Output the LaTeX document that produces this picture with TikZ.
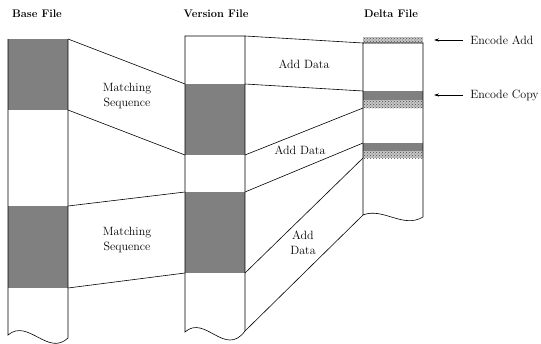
\documentclass[tikz,border=0pt]{standalone}
\usetikzlibrary{patterns,arrows.meta}
\begin{document}
\begin{tikzpicture}[x=1pt,y=-1pt,line width=0.6pt,
    txt/.style={font=\fontsize{12}{15}\selectfont,align=center,inner sep=1pt},
    head/.style={font=\fontsize{11}{13}\selectfont\bfseries},
    matchbox/.style={fill=gray},
    encbox/.style={preaction={fill=gray!45},pattern=crosshatch dots,pattern color=gray!60!black}]
    \useasboundingbox (0,0) rectangle (541,343);
    % headings
    \node[head] (base) at (37,14) {Base File};
    \node[head] (version) at (216,14) {Version File};
    \node[head] (delta) at (391,14) {Delta File};
    % base file
    \fill[matchbox] (8,39) rectangle (68,110);
    \fill[matchbox] (8,206) rectangle (68,288);
    \draw (8,39) -- (8,335) .. controls (28,318) and (48,357) .. (68,338) -- (68,39);
    % version file
    \fill[matchbox] (185,84) rectangle (245,155);
    \fill[matchbox] (185,192) rectangle (245,273);
    \draw (245,36) -- (185,36) -- (185,332) .. controls (205,314) and (225,358) .. (245,331) -- cycle;
    % delta file
    \fill[encbox] (363,37) rectangle (423,43);
    \fill[matchbox] (363,91) rectangle (423,100);
    \fill[encbox] (363,100) rectangle (423,108);
    \fill[matchbox] (363,143) rectangle (423,151);
    \fill[encbox] (363,151) rectangle (423,158);
    \draw (423,43) -- (363,43) -- (363,215) .. controls (383,207) and (403,229) .. (423,217) -- cycle;
    % corners
    \foreach \n/\y in {b1t/39,b1b/110,b2t/206,b2b/288}
        \coordinate (\n) at (68,\y);
    \foreach \n/\y in {vl1t/84,vl1b/155,vl2t/192,vl2b/273}
        \coordinate (\n) at (185,\y);
    \foreach \n/\y in {v0/36,vr1t/84,vr1b/155,vr2t/192,vr2b/273,vbot/331}
        \coordinate (\n) at (245,\y);
    \foreach \n/\y in {d0/43,d1t/91,d1b/108,d2t/143,d2b/158,dbot/215}
        \coordinate (\n) at (363,\y);
    % base to version
    \foreach \a/\b in {b1t/vl1t,b1b/vl1b,b2t/vl2t,b2b/vl2b}
        \draw (\a) -- (\b);
    % version to delta
    \foreach \a/\b in {v0/d0,vr1t/d1t,vr1b/d1b,vr2t/d2t,vr2b/d2b,vbot/dbot}
        \draw (\a) -- (\b);
    % labels
    \node[txt] (ms1) at (127,96) {Matching\\Sequence};
    \node[txt] (ms2) at (127,240) {Matching\\Sequence};
    \node[txt] (add1) at (304,64) {Add Data};
    \node[txt] (add2) at (300,150) {Add Data};
    \node[txt] (add3) at (303,243) {Add\\Data};
    % encodings
    \node[txt,anchor=west] (encadd) at (469,40) {Encode Add};
    \node[txt,anchor=west] (enccopy) at (469,95) {Encode Copy};
    \coordinate (ea) at (434,40);
    \coordinate (ec) at (434,95);
    \draw[-{Stealth[length=5pt,width=3pt]},shorten <=6pt] (encadd.west) -- (ea);
    \draw[-{Stealth[length=5pt,width=3pt]},shorten <=6pt] (enccopy.west) -- (ec);
\end{tikzpicture}
\end{document}
